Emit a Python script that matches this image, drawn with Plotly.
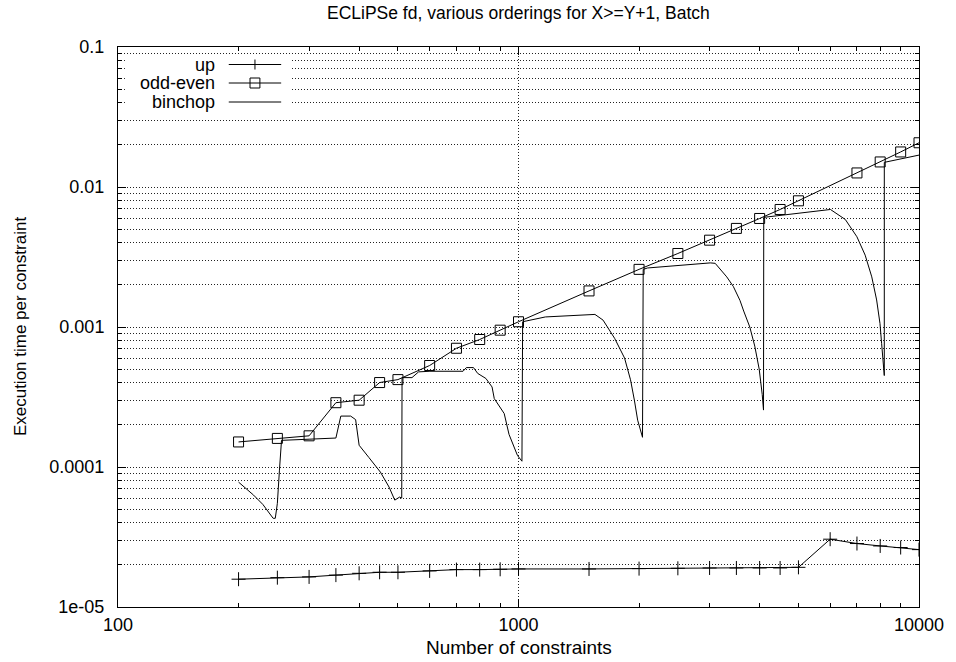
import plotly.graph_objects as go

# ---------------- data ----------------
up_x = [200, 250, 300, 350, 400, 450, 500, 600, 700, 800, 900, 1000, 1500, 2000, 2500,
        3000, 3500, 4000, 4500, 5000, 6000, 7000, 8000, 9000, 10000]
up_y = [1.58e-5, 1.62e-5, 1.64e-5, 1.69e-5, 1.74e-5, 1.77e-5, 1.77e-5, 1.81e-5, 1.85e-5,
        1.85e-5, 1.86e-5, 1.87e-5, 1.87e-5, 1.88e-5, 1.89e-5, 1.90e-5, 1.90e-5, 1.90e-5,
        1.90e-5, 1.92e-5, 3.05e-5, 2.84e-5, 2.73e-5, 2.66e-5, 2.57e-5]

oddeven_x = [200, 250, 300, 350, 400, 450, 500, 600, 700, 800, 900, 1000, 1500, 2000, 2500,
             3000, 3500, 4000, 4500, 5000, 7000, 8000, 9000, 10000]
oddeven_y = [1.51e-4, 1.60e-4, 1.67e-4, 2.88e-4, 3.00e-4, 4.01e-4, 4.21e-4, 5.31e-4, 7.05e-4,
             8.14e-4, 9.49e-4, 1.09e-3, 1.81e-3, 2.58e-3, 3.35e-3, 4.17e-3, 5.06e-3, 5.96e-3,
             6.91e-3, 7.97e-3, 1.26e-2, 1.51e-2, 1.78e-2, 2.07e-2]

binchop_x = [200, 218, 230, 244, 247, 250, 253, 256, 300, 350, 360, 381, 392, 400, 423, 452,
             475, 491, 505, 511,
             512, 542, 563, 601, 727, 741, 772, 791, 829, 859, 870, 921, 947, 975, 994, 1020,
             1024, 1167, 1493, 1552, 1626, 1738, 1840, 1904, 1947, 1984, 2040,
             2048, 2100, 3012, 3098, 3311, 3438, 3501, 3572, 3650, 3780, 3890, 3990, 4060, 4090,
             4096, 6010, 6546, 6998, 7338, 7622, 7838, 7990, 8067, 8145, 8191,
             8192, 10000]
binchop_y = [7.8e-5, 6.3e-5, 5.4e-5, 4.3e-5, 4.3e-5, 5.5e-5, 9.5e-5, 1.55e-4, 1.58e-4, 1.61e-4,
             2.31e-4, 2.31e-4, 2.18e-4, 1.43e-4, 1.17e-4, 9.2e-5, 7.2e-5, 5.8e-5, 6.1e-5, 6.0e-5,
             4.35e-4, 4.35e-4, 4.78e-4, 4.83e-4, 4.83e-4, 5.13e-4, 5.13e-4, 4.66e-4, 4.29e-4,
             3.73e-4, 3.08e-4, 2.41e-4, 1.71e-4, 1.39e-4, 1.21e-4, 1.10e-4,
             1.09e-3, 1.18e-3, 1.23e-3, 1.23e-3, 1.12e-3, 8.3e-4, 6.0e-4, 4.2e-4, 3.0e-4,
             2.16e-4, 1.63e-4,
             2.58e-3, 2.64e-3, 2.87e-3, 2.85e-3, 2.28e-3, 1.95e-3, 1.75e-3, 1.55e-3, 1.30e-3,
             1.00e-3, 7.3e-4, 5.0e-4, 3.3e-4, 2.55e-4,
             6.07e-3, 6.91e-3, 5.86e-3, 4.41e-3, 3.26e-3, 2.28e-3, 1.56e-3, 1.06e-3, 7.6e-4,
             5.5e-4, 4.5e-4,
             1.50e-2, 1.69e-2]

series_names = ["up", "odd-even", "binchop"]
x_tickvals = [100, 1000, 10000]
x_ticktext = ["100", "1000", "10000"]
y_tickvals = [1e-5, 1e-4, 1e-3, 1e-2, 1e-1]
y_ticktext = ["1e-05", "0.0001", "0.001", "0.01", "0.1"]
x_minor = [k * 10 ** d for d in (2, 3) for k in range(2, 10)]
y_minor = [k * 10.0 ** d for d in (-5, -4, -3, -2) for k in range(2, 10)]

TITLE = "ECLiPSe fd, various orderings for X>=Y+1, Batch"
XLABEL = "Number of constraints"
YLABEL = "Execution time per constraint"

# ---------------- layout geometry (pixels) ----------------
W, H = 956, 662
L, R, T, B = 118, 928, 47, 607
FONT = "Liberation Sans, Arial, Helvetica, sans-serif"


def px(p):
    return (p - L) / (R - L)


def py(p):
    return (B - p) / (B - T)


fig = go.Figure()
fig.add_trace(go.Scatter(x=up_x, y=up_y, mode="lines+markers", name=series_names[0],
                         line=dict(color="black", width=1),
                         marker=dict(symbol="cross-thin-open", size=10,
                                     line=dict(color="black", width=1))))
fig.add_trace(go.Scatter(x=oddeven_x, y=oddeven_y, mode="lines+markers", name=series_names[1],
                         line=dict(color="black", width=1),
                         marker=dict(symbol="square-open", size=10, color="black",
                                     line=dict(color="black", width=1))))
fig.add_trace(go.Scatter(x=binchop_x, y=binchop_y, mode="lines", name=series_names[2],
                         line=dict(color="black", width=1)))

axis_common = dict(showline=True, linecolor="black", linewidth=1, mirror="allticks",
                   ticks="inside", ticklen=8, tickcolor="black", tickwidth=1,
                   tickfont=dict(family=FONT, size=18, color="black"),
                   zeroline=False)

fig.update_xaxes(type="log", range=[2, 4], tickmode="array", tickvals=x_tickvals,
                 ticktext=x_ticktext, showgrid=True, gridcolor="#222", gridwidth=1,
                 griddash="1px,2px", ticklabelstandoff=1,
                 minor=dict(tickmode="array", tickvals=x_minor, ticks="inside", ticklen=4,
                            tickcolor="black", showgrid=False),
                 **axis_common)
fig.update_yaxes(type="log", range=[-5, -1], tickmode="array", tickvals=y_tickvals,
                 ticktext=y_ticktext, showgrid=True, gridcolor="#222", gridwidth=1,
                 griddash="1px,2px", ticklabelstandoff=9,
                 minor=dict(tickmode="array", tickvals=y_minor, ticks="inside", ticklen=4,
                            tickcolor="black", showgrid=True, gridcolor="#222",
                            griddash="1px,2px", gridwidth=1),
                 **axis_common)

shapes = []
annotations = []
# opaque key box
shapes.append(dict(type="rect", xref="paper", yref="paper", x0=px(125), x1=px(292),
                   y0=py(110), y1=py(57), fillcolor="white", line=dict(width=0),
                   layer="above"))
rows = [64.5, 83, 102]
tx, s0, s1, sm = 218, 230, 283, 256.5
for i, (name, ry) in enumerate(zip(series_names, rows)):
    annotations.append(dict(x=px(tx), y=py(ry), xref="paper", yref="paper", text=name,
                            showarrow=False, xanchor="right", yanchor="middle",
                            font=dict(family=FONT, size=18, color="black")))
    shapes.append(dict(type="line", xref="paper", yref="paper", x0=px(s0), x1=px(s1),
                       y0=py(ry), y1=py(ry), line=dict(color="black", width=1), layer="above"))
    if i == 0:
        shapes.append(dict(type="line", xref="paper", yref="paper", x0=px(sm), x1=px(sm),
                           y0=py(ry - 5), y1=py(ry + 5), line=dict(color="black", width=1),
                           layer="above"))
    if i == 1:
        shapes.append(dict(type="rect", xref="paper", yref="paper", x0=px(sm - 5),
                           x1=px(sm + 5), y0=py(ry + 5), y1=py(ry - 5),
                           line=dict(color="black", width=1), fillcolor="rgba(0,0,0,0)",
                           layer="above"))

# titles
annotations.append(dict(x=0.5, y=py(13), xref="paper", yref="paper", text=TITLE,
                        showarrow=False, xanchor="center", yanchor="middle",
                        font=dict(family=FONT, size=17.5, color="black")))
annotations.append(dict(x=0.5, y=py(647), xref="paper", yref="paper", text=XLABEL,
                        showarrow=False, xanchor="center", yanchor="middle",
                        font=dict(family=FONT, size=19, color="black")))
annotations.append(dict(x=px(19), y=py(327), xref="paper", yref="paper", text=YLABEL,
                        showarrow=False, xanchor="center", yanchor="middle", textangle=-90,
                        font=dict(family=FONT, size=17, color="black")))

fig.update_layout(width=W, height=H, margin=dict(l=L, r=W - R, t=T, b=H - B),
                  paper_bgcolor="white", plot_bgcolor="white", showlegend=False,
                  shapes=shapes, annotations=annotations,
                  font=dict(family=FONT, size=18, color="black"))

fig.write_html("out.html", config={"displayModeBar": False},
               post_script="document.body.style.margin='0';"
                           "document.body.style.overflow='hidden';")
